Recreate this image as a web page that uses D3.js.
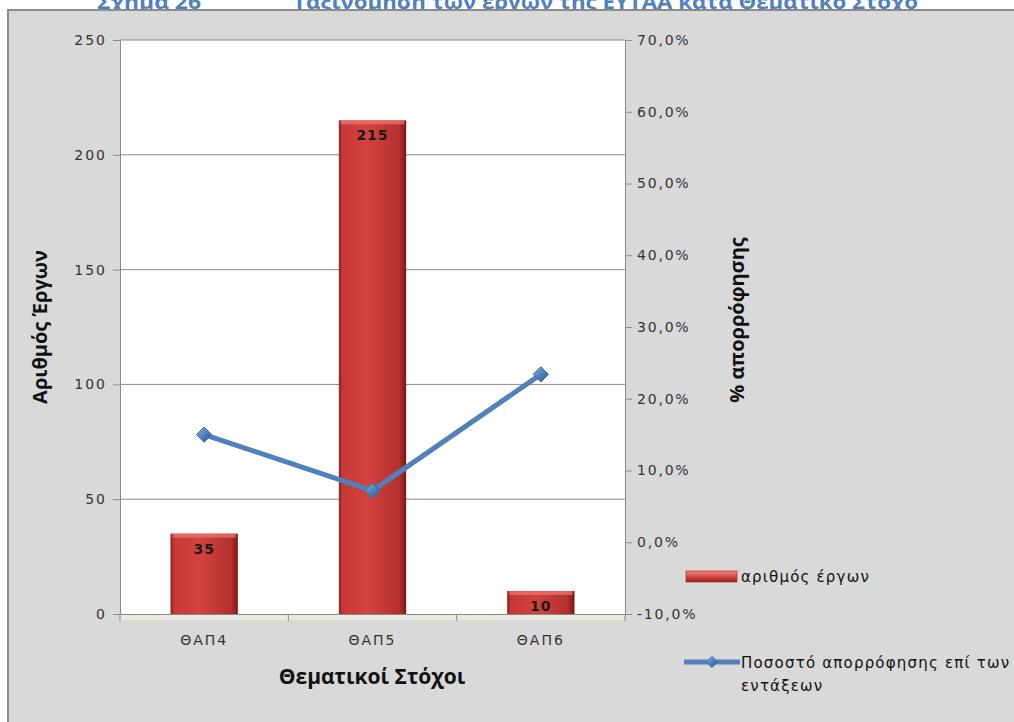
<!DOCTYPE html>
<html><head><meta charset="utf-8">
<script src="https://cdn.jsdelivr.net/npm/d3@7/dist/d3.min.js"></script>
<style>body{margin:0;background:#fff;}svg{display:block;}</style>
</head><body>
<svg id="c" width="1014" height="722"></svg>
<script>
const categories = ["ΘΑΠ4", "ΘΑΠ5", "ΘΑΠ6"];
const projectCounts = [35, 215, 10];
const absorptionPct = [0.15, 0.072, 0.234];
const leftTicks = [0, 50, 100, 150, 200, 250];
const rightTicks = [-0.1, 0, 0.1, 0.2, 0.3, 0.4, 0.5, 0.6, 0.7];
const titleLeft = "Σχήμα 26";
const titleRight = "Ταξινόμηση των έργων της ΕΥΤΑΑ κατά Θεματικό Στόχο";
const yTitleLeft = "Αριθμός Έργων";
const yTitleRight = "% απορρόφησης";
const xTitle = "Θεματικοί Στόχοι";
const legendBar = "αριθμός έργων";
const legendLine = ["Ποσοστό απορρόφησης επί των", "εντάξεων"];

const svg = d3.select("#c");
const defs = svg.append("defs");
const g1 = defs.append("linearGradient").attr("id","barG").attr("x1","0").attr("x2","1").attr("y1","0").attr("y2","0");
[["0%","#8e201d"],["6%","#c83a37"],["45%","#d2423f"],["90%","#b3302d"],["100%","#7a1714"]].forEach(s=>g1.append("stop").attr("offset",s[0]).attr("stop-color",s[1]));
const g2 = defs.append("linearGradient").attr("id","legG").attr("x1","0").attr("x2","0").attr("y1","0").attr("y2","1");
[["0%","#f08a86"],["45%","#d9504c"],["100%","#9c2320"]].forEach(s=>g2.append("stop").attr("offset",s[0]).attr("stop-color",s[1]));
const g3 = defs.append("linearGradient").attr("id","dG").attr("x1","0").attr("x2","1").attr("y1","0").attr("y2","1");
[["0%","#8fb4e3"],["50%","#4f81bd"],["100%","#2c5a92"]].forEach(s=>g3.append("stop").attr("offset",s[0]).attr("stop-color",s[1]));

// title (partially cut at top, as in the source)
svg.append("text").attr("x",97).attr("y",9).attr("font-family","Open Sans, sans-serif").attr("font-weight","bold").attr("font-size",19).attr("fill","#4f81bd").attr("textLength",104).attr("lengthAdjust","spacingAndGlyphs").text(titleLeft);
svg.append("text").attr("x",293).attr("y",9).attr("font-family","Open Sans, sans-serif").attr("font-weight","bold").attr("font-size",19).attr("fill","#4f81bd").attr("textLength",625).attr("lengthAdjust","spacingAndGlyphs").text(titleRight);

// frame
svg.append("rect").attr("x",8).attr("y",10).attr("width",1014).attr("height",720).attr("fill","#d9d9d9").attr("stroke","#8c8c8c").attr("stroke-width",2);

const L=120, R=625, T=40, B=614;
svg.append("rect").attr("x",L).attr("y",T).attr("width",R-L).attr("height",B-T).attr("fill","#fff");
svg.append("rect").attr("x",L).attr("y",B).attr("width",R-L).attr("height",6).attr("fill","#e9ecdc");

const x = d3.scaleBand().domain(categories).range([L,R]).padding(0);
const yL = d3.scaleLinear().domain([0,250]).range([B,T]);
const yR = d3.scaleLinear().domain([-0.1,0.7]).range([B,T]);

// gridlines
svg.append("g").selectAll("line").data(leftTicks.filter(d=>d>0)).join("line")
  .attr("x1",L).attr("x2",R).attr("y1",d=>yL(d)).attr("y2",d=>yL(d)).attr("stroke","#8a8a8a").attr("stroke-width",1);

const tickFont = "DejaVu Sans, Verdana, sans-serif";
// left axis
const la = svg.append("g").attr("transform",`translate(${L},0)`).call(d3.axisLeft(yL).tickValues(leftTicks).tickSize(7).tickPadding(6));
la.select(".domain").attr("stroke","#8a8a8a");
la.selectAll(".tick line").attr("stroke","#8a8a8a");
la.selectAll("text").attr("font-family",tickFont).attr("font-size",14).attr("letter-spacing","2px").attr("fill","#333");
// right axis
const fmt = d => (d*100).toFixed(1).replace(".",",")+"%";
const ra = svg.append("g").attr("transform",`translate(${R},0)`).call(d3.axisRight(yR).tickValues(rightTicks).tickFormat(fmt).tickSize(7).tickPadding(5));
ra.select(".domain").attr("stroke","#8a8a8a");
ra.selectAll(".tick line").attr("stroke","#8a8a8a");
ra.selectAll("text").attr("font-family",tickFont).attr("font-size",14).attr("letter-spacing","1.8px").attr("fill","#333");
// bottom axis
const ba = svg.append("g").attr("transform",`translate(0,${B})`).call(d3.axisBottom(x).tickSize(0).tickPadding(21));
ba.select(".domain").attr("stroke","#8a8a8a");
ba.selectAll("text").attr("font-family",tickFont).attr("font-size",14).attr("letter-spacing","2px").attr("fill","#333");
svg.append("g").selectAll("line").data(d3.range(categories.length+1)).join("line")
  .attr("x1",i=>L+i*x.step()).attr("x2",i=>L+i*x.step()).attr("y1",B).attr("y2",B+7).attr("stroke","#8a8a8a");

// bars
const bw = x.bandwidth()*0.4;
const bars = svg.append("g");
categories.forEach((c,i)=>{
  const bx = x(c)+x.bandwidth()/2-bw/2, by = yL(projectCounts[i]);
  bars.append("rect").attr("x",bx).attr("y",by).attr("width",bw).attr("height",B-by).attr("fill","url(#barG)");
  bars.append("rect").attr("x",bx+2).attr("y",by).attr("width",bw-4).attr("height",4).attr("fill","#e8706c").attr("opacity",0.8);
  bars.append("text").attr("x",x(c)+x.bandwidth()/2).attr("y",by+20).attr("text-anchor","middle")
    .attr("font-family",tickFont).attr("font-weight","bold").attr("font-size",14).attr("letter-spacing","1px").attr("fill","#1a1a1a").text(projectCounts[i]);
});

// line
const cx = c => x(c)+x.bandwidth()/2;
svg.append("path").datum(absorptionPct).attr("fill","none").attr("stroke","#4f81bd").attr("stroke-width",5).attr("stroke-linejoin","round")
  .attr("d",d3.line().x((d,i)=>cx(categories[i])).y(d=>yR(d)));
svg.append("g").selectAll("path").data(absorptionPct).join("path")
  .attr("transform",(d,i)=>`translate(${cx(categories[i])},${yR(d)})`)
  .attr("d",d3.symbol(d3.symbolDiamond2,150)).attr("fill","url(#dG)").attr("stroke","#3a6aa3").attr("stroke-width",1);

// axis titles
const titleFont = "Open Sans, sans-serif";
svg.append("text").attr("transform","translate(47,327) rotate(-90)").attr("text-anchor","middle").attr("font-family",titleFont).attr("font-weight","bold").attr("font-size",20).attr("fill","#111").text(yTitleLeft);
svg.append("text").attr("transform","translate(744,320) rotate(-90)").attr("text-anchor","middle").attr("font-family",titleFont).attr("font-weight","bold").attr("font-size",20).attr("fill","#111").text(yTitleRight);
svg.append("text").attr("x",372).attr("y",684).attr("text-anchor","middle").attr("font-family",titleFont).attr("font-weight","bold").attr("font-size",21).attr("fill","#111").text(xTitle);

// legend
svg.append("rect").attr("x",686).attr("y",571).attr("width",51).attr("height",11).attr("fill","url(#legG)").attr("stroke","#8e201d").attr("stroke-width",0.6);
svg.append("text").attr("x",741).attr("y",582).attr("font-family",tickFont).attr("font-size",15).attr("letter-spacing","1.2px").attr("fill","#111").text(legendBar);
svg.append("line").attr("x1",684).attr("x2",740).attr("y1",662).attr("y2",662).attr("stroke","#4f81bd").attr("stroke-width",5);
svg.append("path").attr("transform","translate(712,662)").attr("d",d3.symbol(d3.symbolDiamond2,80)).attr("fill","url(#dG)").attr("stroke","#3a6aa3");
svg.append("text").attr("x",741).attr("y",668).attr("font-family",tickFont).attr("font-size",15).attr("letter-spacing","1.2px").attr("fill","#111").text(legendLine[0]);
svg.append("text").attr("x",741).attr("y",691).attr("font-family",tickFont).attr("font-size",15).attr("letter-spacing","1.2px").attr("fill","#111").text(legendLine[1]);
</script>
</body></html>
